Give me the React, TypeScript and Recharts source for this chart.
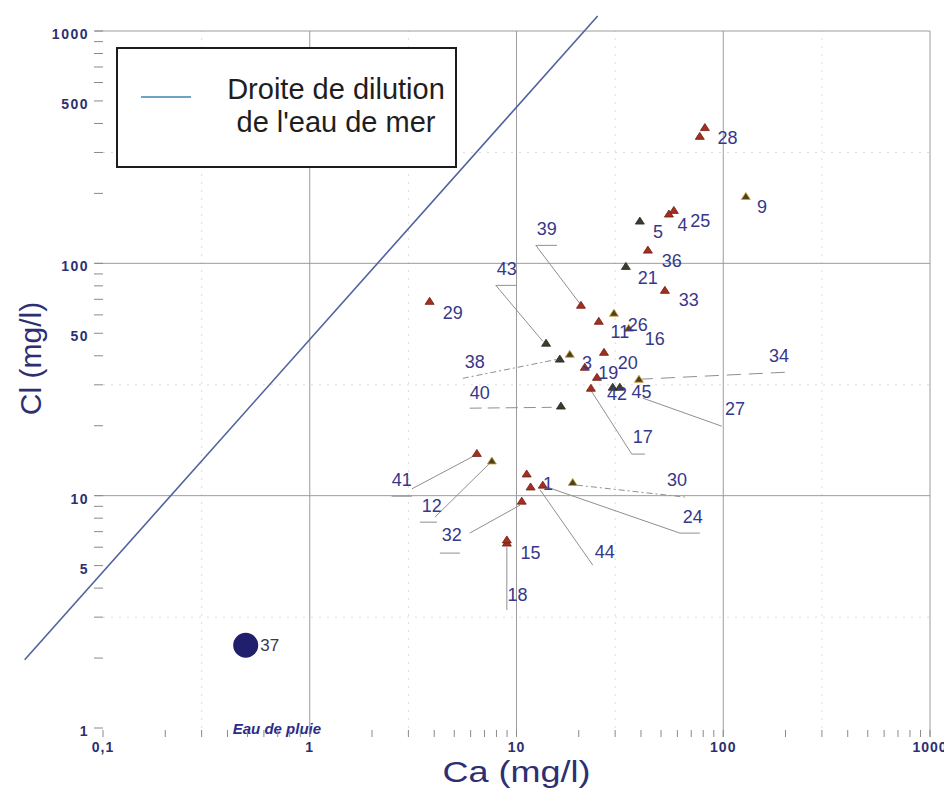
import { ScatterChart, Scatter, XAxis, YAxis, ReferenceLine, Legend } from "recharts";

// samples: Ca / Cl in mg/l (log-log plot)
const pointCa = [81.5, 77, 128.6, 57.7, 54.6, 39.5, 43.2, 33.8, 52.2, 3.8, 20.5, 29.6, 25, 34.9, 13.9, 16.2, 18.1, 26.5, 21.4, 24.5, 29.2, 39.1, 22.9, 16.4, 31.6, 6.43, 7.6, 11.2, 11.7, 13.4, 18.7, 10.6, 8.98, 8.98];
const pointCl = [384, 352, 194, 169, 163, 152, 114, 97, 76.5, 68.6, 66, 61, 56.3, 52.5, 45.3, 38.7, 40.6, 41.4, 35.7, 32.3, 29.3, 31.7, 29, 24.3, 29.3, 15.2, 14.1, 12.4, 10.9, 11.1, 11.4, 9.47, 6.25, 6.45];
const pointKind = ["red", "red", "olive", "red", "red", "dark", "red", "dark", "red", "red", "red", "olive", "red", "olive", "dark", "dark", "olive", "red", "red", "red", "dark", "olive", "red", "dark", "dark", "red", "olive", "red", "red", "red", "olive", "red", "red", "red"];

// rain water sample
const rainCa = [0.49];
const rainCl = [2.27];

// sample numbers and where they are written
const labelText = ["28", "9", "25", "4", "5", "36", "21", "33", "29", "39", "26", "11", "16", "43", "38", "20", "3", "19", "42", "45", "17", "40", "27", "34", "41", "12", "44", "24", "30", "32", "15", "18", "1"];
const labelCa = [105, 154, 77.5, 63.5, 48.3, 56.4, 43.2, 68.2, 4.92, 14.0, 38.6, 31.6, 46.7, 8.98, 6.29, 34.5, 21.9, 27.8, 30.6, 40.2, 40.8, 6.64, 114, 186, 2.79, 3.89, 26.7, 71.3, 59.7, 4.86, 11.7, 10.1, 14.2];
const labelCl = [345, 174, 152, 146, 136, 102, 86.2, 69.3, 61.0, 141, 54.1, 50.5, 47.1, 94.2, 37.5, 37.1, 37.1, 33.6, 27.4, 27.9, 17.9, 27.6, 23.6, 39.8, 11.7, 9.01, 5.71, 8.08, 11.7, 6.76, 5.66, 3.73, 11.2];

const rainLabelCa = [0.64];
const rainLabelCl = [2.27];
const rainNoteCa = [0.424];
const rainNoteCl = [1];

// leader lines from labels to points
const leaderCa = [
  [15.7, 12.4, 20.2],
  [10.0, 7.94, 13.4],
  [5.5, 15.7],
  [5.94, 14.8],
  [39.1, 203],
  [40.8, 98.4],
  [22.9, 36.1, 41.8],
  [6.29, 3.12],
  [2.49, 3.12],
  [7.43, 4.03],
  [3.41, 4.12],
  [10.4, 5.94],
  [4.26, 5.32],
  [19.6, 65.2],
  [14.0, 61.7, 77.1],
  [13.0, 23.4],
  [8.98, 8.98],
];
const leaderCl = [
  [119.5, 119.5, 67.3],
  [80.4, 80.4, 46.2],
  [32.0, 38.6],
  [23.8, 24.0],
  [31.7, 34.0],
  [26.3, 19.9],
  [28.4, 15.1, 15.1],
  [14.9, 10.7],
  [9.95, 9.95],
  [13.8, 8.08],
  [7.69, 7.69],
  [9.1, 6.9],
  [5.66, 5.66],
  [11.1, 9.86],
  [10.9, 6.9, 6.9],
  [10.6, 5.02],
  [6.0, 3.22],
];
const leaderDash = ["", "", "6 3 2 3", "12 6", "14 8", "", "", "", "", "", "", "", "", "6 3 2 3", "", "", ""];

// seawater dilution line (Cl/Ca ~ 47)
const dilutionCa = [0.0418, 24.7];
const dilutionCl = [1.965, 1161];

const xTicks = [0.1, 0.2, 0.3, 0.4, 0.5, 0.6, 0.7, 0.8, 0.9, 1, 2, 3, 4, 5, 6, 7, 8, 9, 10, 20, 30, 40, 50, 60, 70, 80, 90, 100, 200, 300, 400, 500, 600, 700, 800, 900, 1000];
const yTicks = [1, 2, 3, 4, 5, 6, 7, 8, 9, 10, 20, 30, 40, 50, 60, 70, 80, 90, 100, 200, 300, 400, 500, 600, 700, 800, 900, 1000];
const xTickText: Record<number, string> = { 0.1: "0,1", 1: "1", 10: "10", 100: "100", 1000: "1000" };
const yTickText: Record<number, string> = { 1: "1", 5: "5", 10: "10", 50: "50", 100: "100", 500: "500", 1000: "1000" };
const xMajor = [1, 10, 100, 1000];
const yMajor = [10, 100, 1000];
const xMinorGrid = [0.3, 3, 30, 300];
const yMinorGrid = [3, 30, 300];

const points = pointCa.map((ca, i) => ({ ca, cl: pointCl[i], kind: pointKind[i] }));
const rain = rainCa.map((ca, i) => ({ ca, cl: rainCl[i] }));
const labels = labelCa.map((ca, i) => ({ ca, cl: labelCl[i], text: labelText[i] }));
const rainLabel = rainLabelCa.map((ca, i) => ({ ca, cl: rainLabelCl[i], text: "37" }));
const rainNote = rainNoteCa.map((ca, i) => ({ ca, cl: rainNoteCl[i], text: "Eau de pluie" }));

const markerColors: Record<string, { fill: string; stroke: string }> = {
  red: { fill: "#a3301f", stroke: "#6e1c12" },
  dark: { fill: "#3d3b30", stroke: "#2a2920" },
  olive: { fill: "#4f4118", stroke: "#c9a23a" },
};

const NAVY = "#2d2f72";
const GRID = "#9c9c9c";
const FONT = "Liberation Sans, Arial, sans-serif";

const Triangle = (props: any) => {
  const { cx, cy, payload } = props;
  const c = markerColors[payload.kind];
  return (
    <path
      d={`M${cx},${cy - 4} L${cx + 4.5},${cy + 3} L${cx - 4.5},${cy + 3} Z`}
      fill={c.fill}
      stroke={c.stroke}
      strokeWidth={0.8}
    />
  );
};

const RainDot = (props: any) => <circle cx={props.cx} cy={props.cy} r={12.5} fill="#1f1f6b" />;

const NumberLabel = (props: any) => (
  <text x={props.cx} y={props.cy} textAnchor="middle" dominantBaseline="central" fontFamily={FONT} fontSize={18} fill="#36388a">
    {props.payload.text}
  </text>
);

const RainLabel = (props: any) => (
  <text x={props.cx} y={props.cy} textAnchor="middle" dominantBaseline="central" fontFamily={FONT} fontSize={17} fill="#3a3a4a">
    {props.payload.text}
  </text>
);

const RainNote = (props: any) => (
  <text x={props.cx} y={props.cy} textAnchor="start" dominantBaseline="central" fontFamily={FONT} fontSize={15} fontWeight="bold" fontStyle="italic" fill="#2a2c8a">
    {props.payload.text}
  </text>
);

const XTick = (props: any) => {
  const { x, y, payload } = props;
  const t = xTickText[payload.value];
  return (
    <g>
      <line x1={x} x2={x} y1={y + 2} y2={y + 9} stroke="#8a8a8a" />
      {t && (
        <text x={x} y={y + 19} textAnchor="middle" dominantBaseline="central" fontFamily={FONT} fontSize={14} fontWeight="bold" letterSpacing={1} fill={NAVY}>
          {t}
        </text>
      )}
    </g>
  );
};

const YTick = (props: any) => {
  const { x, y, payload } = props;
  const t = yTickText[payload.value];
  return (
    <g>
      <line x1={x - 9} x2={x} y1={y} y2={y} stroke="#8a8a8a" />
      {t && (
        <text x={x - 14} y={y + 3} textAnchor="end" dominantBaseline="central" fontFamily={FONT} fontSize={14} fontWeight="bold" letterSpacing={1.5} fill={NAVY}>
          {t}
        </text>
      )}
    </g>
  );
};

const XTitle = (props: any) => {
  const { x, y, width } = props.viewBox;
  return (
    <text x={x + width / 2} y={y + 44} textAnchor="middle" dominantBaseline="central" fontFamily={FONT} fontSize={29} fill={NAVY} textLength={148} lengthAdjust="spacingAndGlyphs">
      Ca (mg/l)
    </text>
  );
};

const YTitle = (props: any) => {
  const { x, y, height } = props.viewBox;
  const cx = x - 13;
  const cy = y + height / 2 - 21;
  return (
    <text x={cx} y={cy} transform={`rotate(-90 ${cx} ${cy})`} textAnchor="middle" dominantBaseline="central" fontFamily={FONT} fontSize={30} fill={NAVY}>
      Cl (mg/l)
    </text>
  );
};

const LegendBox = () => (
  <div
    style={{
      position: "relative",
      width: 341,
      height: 121,
      boxSizing: "border-box",
      border: "2px solid #1c1c1c",
      background: "#fff",
      fontFamily: FONT,
      color: "#1e1e1e",
    }}
  >
    <div style={{ position: "absolute", left: 23, top: 47, width: 50, borderTop: "2px solid #6fa3c4" }} />
    <div style={{ position: "absolute", left: 58, top: 24, width: 320, textAlign: "center", fontSize: 29, lineHeight: "33px" }}>
      Droite de dilution
      <br />
      de l'eau de mer
    </div>
  </div>
);

export default function App() {
  return (
    <ScatterChart width={944} height={789} margin={{ top: 23, right: 22, bottom: 29, left: 35 }}>
      <XAxis
        type="number"
        dataKey="ca"
        scale="log"
        domain={[0.1, 1000]}
        ticks={xTicks}
        interval={0}
        height={40}
        axisLine={false}
        tickLine={false}
        tickSize={0}
        tickMargin={0}
        tick={<XTick />}
        label={XTitle}
      />
      <YAxis
        type="number"
        dataKey="cl"
        scale="log"
        domain={[1, 1000]}
        ticks={yTicks}
        interval={0}
        width={60}
        axisLine={false}
        tickLine={false}
        tickSize={0}
        tickMargin={0}
        tick={<YTick />}
        label={YTitle}
      />
      {xMinorGrid.map((v) => (
        <ReferenceLine key={`xm${v}`} x={v} stroke="#dcdcdc" strokeDasharray="2 6" ifOverflow="visible" />
      ))}
      {yMinorGrid.map((v) => (
        <ReferenceLine key={`ym${v}`} y={v} stroke="#dcdcdc" strokeDasharray="2 6" ifOverflow="visible" />
      ))}
      {xMajor.map((v) => (
        <ReferenceLine
          key={`xg${v}`}
          segment={[{ x: v, y: 0.915 }, { x: v, y: 1000 }]}
          stroke={GRID}
          ifOverflow="visible"
        />
      ))}
      {yMajor.map((v) => (
        <ReferenceLine
          key={`yg${v}`}
          segment={[{ x: 0.0912, y: v }, { x: 1000, y: v }]}
          stroke={GRID}
          ifOverflow="visible"
        />
      ))}
      {leaderCa.flatMap((xs, i) =>
        xs.slice(1).map((_, j) => (
          <ReferenceLine
            key={`ld${i}-${j}`}
            segment={[
              { x: xs[j], y: leaderCl[i][j] },
              { x: xs[j + 1], y: leaderCl[i][j + 1] },
            ]}
            stroke="#8f8f8f"
            strokeWidth={1}
            strokeDasharray={leaderDash[i] || undefined}
            ifOverflow="visible"
          />
        ))
      )}
      <ReferenceLine
        segment={[
          { x: dilutionCa[0], y: dilutionCl[0] },
          { x: dilutionCa[1], y: dilutionCl[1] },
        ]}
        stroke="#52639c"
        strokeWidth={1.6}
        ifOverflow="visible"
      />
      <Scatter data={points} shape={Triangle} isAnimationActive={false} legendType="none" />
      <Scatter data={rain} shape={RainDot} isAnimationActive={false} legendType="none" />
      <Scatter data={labels} shape={NumberLabel} isAnimationActive={false} legendType="none" />
      <Scatter data={rainLabel} shape={RainLabel} isAnimationActive={false} legendType="none" />
      <Scatter data={rainNote} shape={RainNote} isAnimationActive={false} legendType="none" />
      <Legend
        layout="vertical"
        align="center"
        verticalAlign="middle"
        wrapperStyle={{ left: 108, top: 39, width: 341, height: 121 }}
        content={<LegendBox />}
      />
    </ScatterChart>
  );
}
